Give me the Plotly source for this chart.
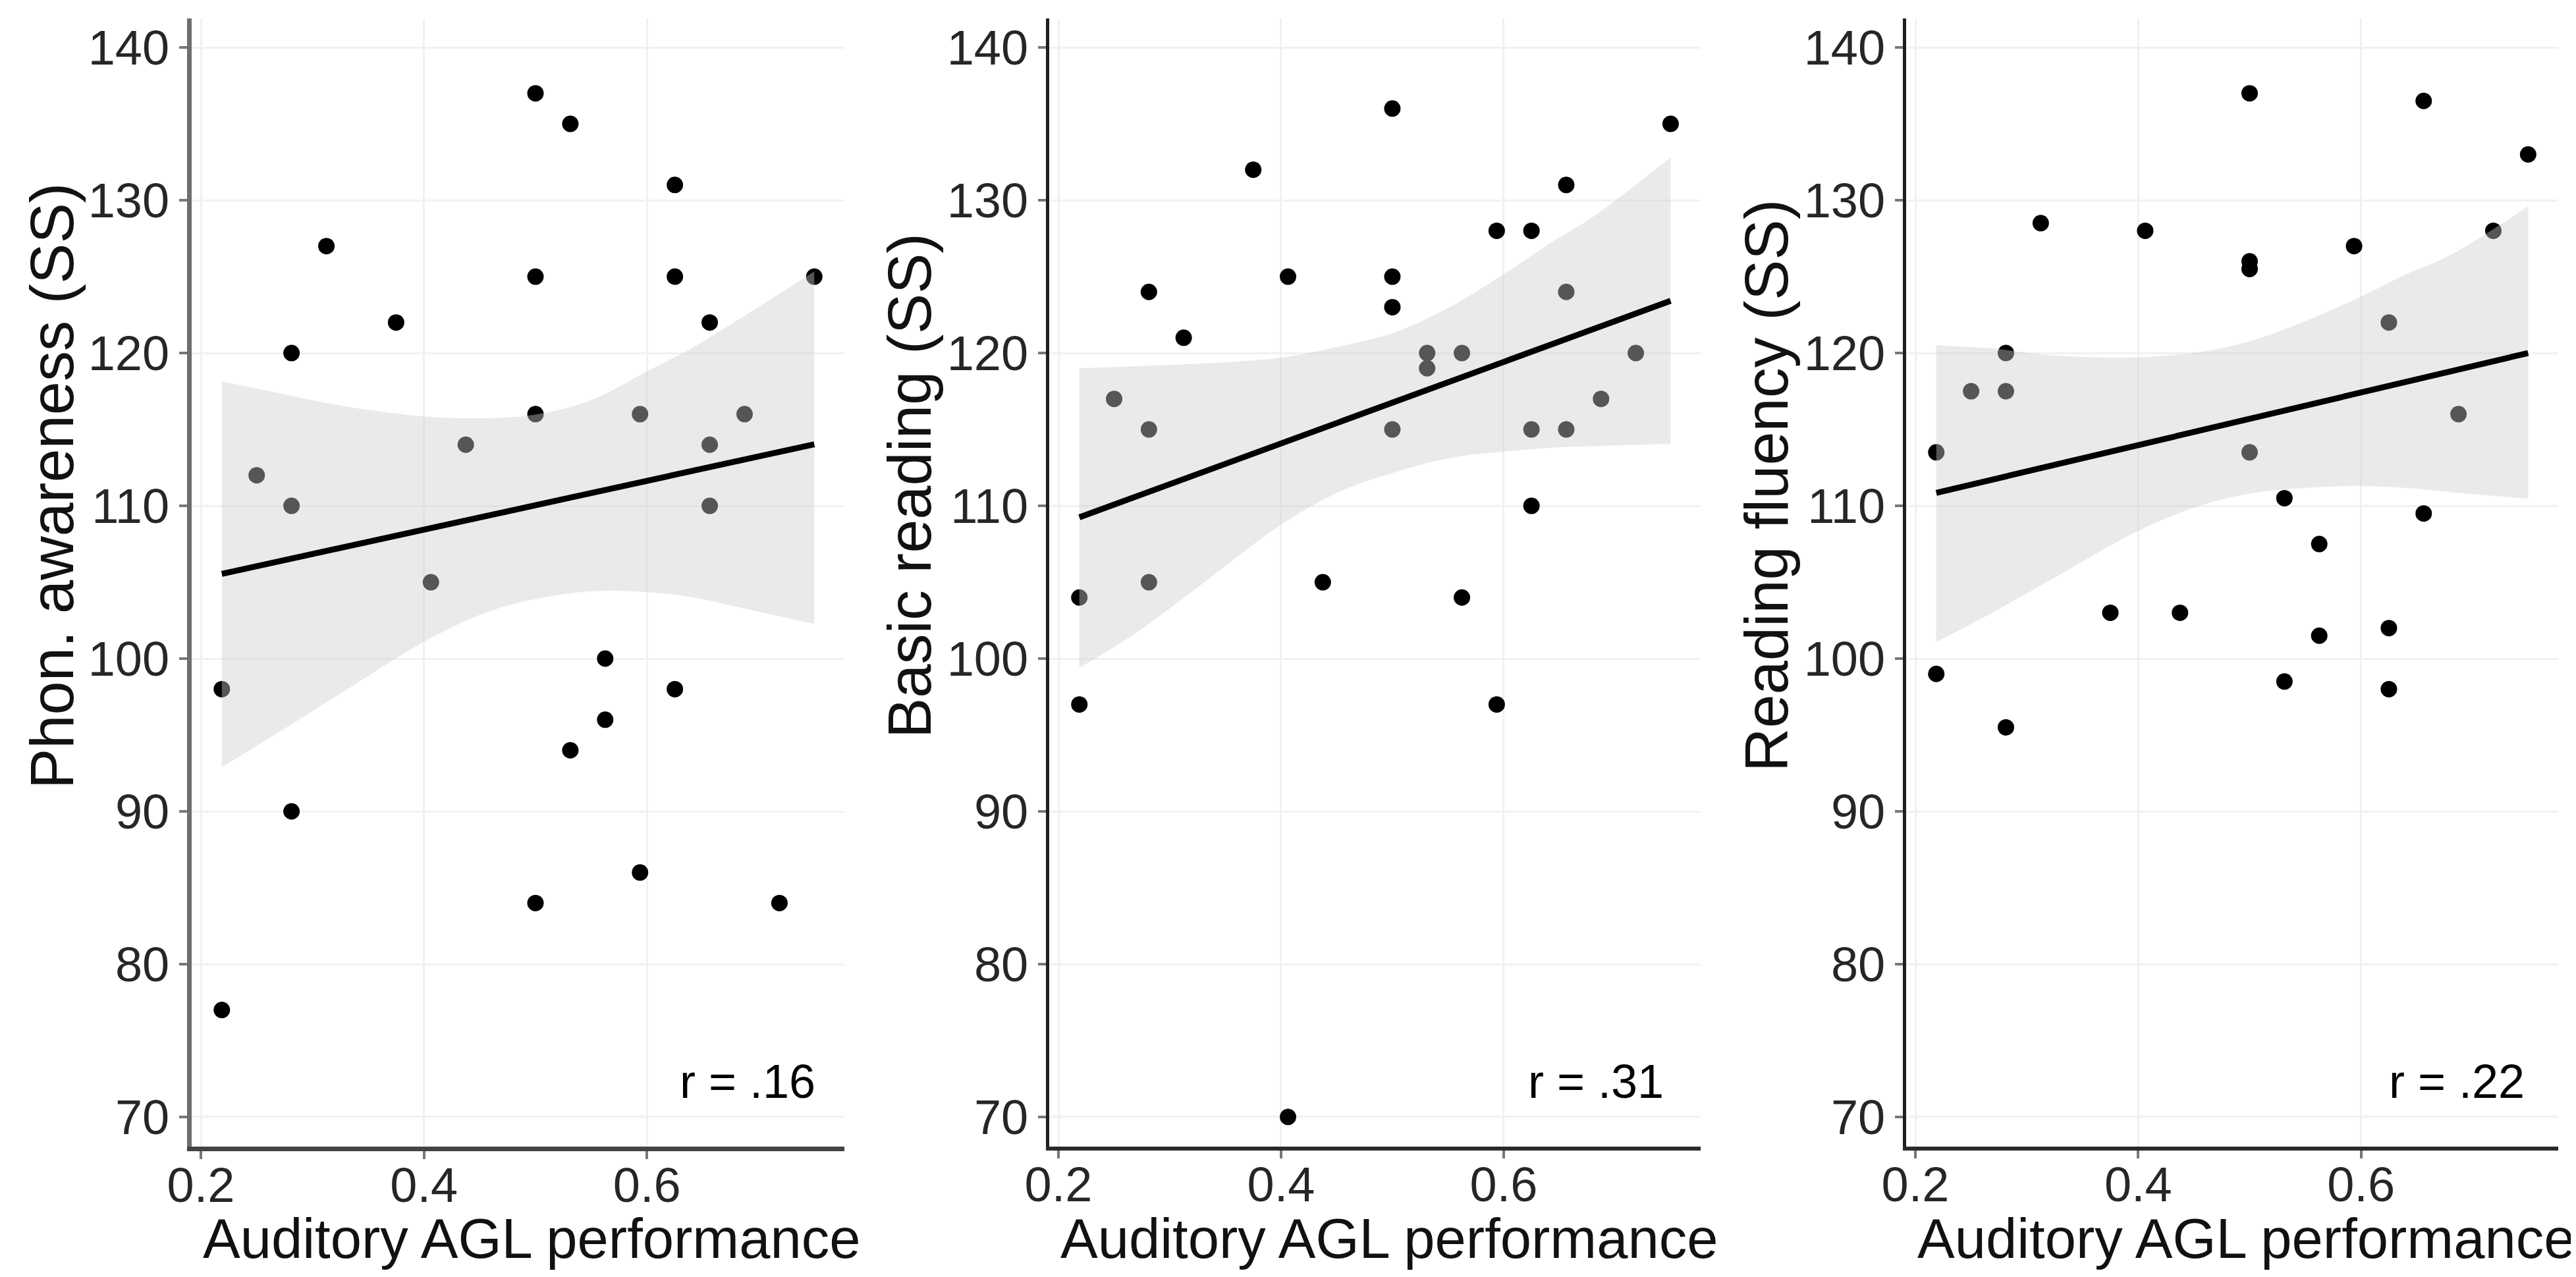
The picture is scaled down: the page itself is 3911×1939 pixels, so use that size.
import plotly.graph_objects as go

# x = auditory AGL performance (proportion correct), y = standard scores
pa_x = [0.21875, 0.21875, 0.25, 0.28125, 0.28125, 0.28125, 0.3125, 0.375, 0.40625, 0.4375,
        0.5, 0.5, 0.5, 0.5, 0.53125, 0.53125, 0.5625, 0.5625, 0.59375, 0.59375,
        0.625, 0.625, 0.625, 0.65625, 0.65625, 0.65625, 0.6875, 0.71875, 0.75]
pa_y = [77, 98, 112, 120, 110, 90, 127, 122, 105, 114,
        137, 125, 116, 84, 135, 94, 100, 96, 116, 86,
        131, 125, 98, 122, 114, 110, 116, 84, 125]

br_x = [0.21875, 0.21875, 0.25, 0.28125, 0.28125, 0.28125, 0.3125, 0.375, 0.40625, 0.40625,
        0.4375, 0.5, 0.5, 0.5, 0.5, 0.53125, 0.53125, 0.5625, 0.5625, 0.59375,
        0.59375, 0.625, 0.625, 0.625, 0.65625, 0.65625, 0.65625, 0.6875, 0.71875, 0.75]
br_y = [104, 97, 117, 124, 115, 105, 121, 132, 125, 70,
        105, 136, 125, 123, 115, 120, 119, 120, 104, 128,
        97, 128, 115, 110, 131, 124, 115, 117, 120, 135]

rf_x = [0.21875, 0.21875, 0.25, 0.28125, 0.28125, 0.28125, 0.3125, 0.375, 0.40625, 0.4375,
        0.5, 0.5, 0.5, 0.5, 0.53125, 0.53125, 0.5625, 0.5625, 0.59375,
        0.625, 0.625, 0.625, 0.65625, 0.65625, 0.6875, 0.71875, 0.75]
rf_y = [113.5, 99, 117.5, 120, 117.5, 95.5, 128.5, 103, 128, 103,
        137, 126, 125.5, 113.5, 110.5, 98.5, 107.5, 101.5, 127,
        122, 102, 98, 136.5, 109.5, 116, 128, 133]

# fitted lines (end points) and confidence bands
fit_x = [0.21875, 0.75]
pa_fit = [105.55, 114.03]
br_fit = [109.25, 123.42]
rf_fit = [110.85, 120.0]

band_x = [0.21875, 0.268, 0.325, 0.4, 0.455, 0.5, 0.549, 0.6, 0.642, 0.68, 0.75]
pa_hi = [118.15, 117.4, 116.56, 115.85, 115.74, 115.97, 116.9, 118.8, 120.4, 122.1, 125.34]
pa_lo = [92.9, 95.1, 97.7, 101.1, 103.0, 103.9, 104.4, 104.35, 104.0, 103.4, 102.27]
br_hi = [119.0, 119.13, 119.3, 119.7, 120.47, 121.3, 122.9, 125.15, 127.2, 128.9, 132.8]
br_lo = [99.4, 101.6, 104.66, 108.76, 111.0, 112.15, 113.1, 113.56, 113.8, 113.9, 114.05]
rf_hi = [120.5, 120.3, 119.84, 119.72, 120.07, 120.77, 122.06, 123.7, 125.2, 126.4, 129.6]
rf_lo = [101.1, 102.97, 105.3, 108.36, 110.0, 110.8, 111.17, 111.3, 111.17, 110.9, 110.47]

y_titles = ["Phon. awareness (SS)", "Basic reading (SS)", "Reading fluency (SS)"]
r_labels = ["r = .16", "r = .31", "r = .22"]
x_title = "Auditory AGL performance"
x_ticks = [0.2, 0.4, 0.6]
y_ticks = [70, 80, 90, 100, 110, 120, 130, 140]

W, H = 3911, 1939
panels = [
    dict(x=pa_x, y=pa_y, fit=pa_fit, hi=pa_hi, lo=pa_lo, left=283, right=1274,
         yline="#6e6e6e", ylw=7, xline="#444444", xlw=7, rx=0.958),
    dict(x=br_x, y=br_y, fit=br_fit, hi=br_hi, lo=br_lo, left=1585, right=2574,
         yline="#1e1e1e", ylw=5, xline="#2a2a2a", xlw=6, rx=0.945),
    dict(x=rf_x, y=rf_y, fit=rf_fit, hi=rf_hi, lo=rf_lo, left=2886, right=3876,
         yline="#1e1e1e", ylw=5, xline="#2a2a2a", xlw=6, rx=0.95),
]
top_px, bottom_px = 20, 1733
ydom = [1 - bottom_px / H, 1 - top_px / H]

tick_font = dict(family="Liberation Sans, Arial", size=74, color="#262626")
title_font = dict(family="Liberation Sans, Arial", color="#111111")

fig = go.Figure()
annotations = []
layout = {}
for i, p in enumerate(panels, start=1):
    xa = "x" if i == 1 else f"x{i}"
    ya = "y" if i == 1 else f"y{i}"
    # points first, so the band greys the ones it covers (as in ggplot)
    fig.add_trace(go.Scatter(x=p["x"], y=p["y"], mode="markers", xaxis=xa, yaxis=ya,
                             marker=dict(color="black", size=25), showlegend=False))
    fig.add_trace(go.Scatter(x=band_x, y=p["lo"], mode="lines", xaxis=xa, yaxis=ya,
                             line=dict(width=0, shape="spline"), showlegend=False))
    fig.add_trace(go.Scatter(x=band_x, y=p["hi"], mode="lines", xaxis=xa, yaxis=ya,
                             line=dict(width=0, shape="spline"), fill="tonexty",
                             fillcolor="rgba(205,205,205,0.42)", showlegend=False))
    fig.add_trace(go.Scatter(x=fit_x, y=p["fit"], mode="lines", xaxis=xa, yaxis=ya,
                             line=dict(color="black", width=9), showlegend=False))

    xdom = [p["left"] / W, p["right"] / W]
    layout["xaxis" if i == 1 else f"xaxis{i}"] = dict(
        domain=xdom, anchor=ya, range=[0.1917, 0.777], tickvals=x_ticks,
        ticktext=["0.2", "0.4", "0.6"], showline=True, linecolor=p["xline"], linewidth=p["xlw"],
        ticks="outside", ticklen=12, tickwidth=4, tickcolor="#777777",
        ticklabelstandoff=-24,
        showgrid=True, gridcolor="#f1f1f1", gridwidth=3, zeroline=False,
        tickfont=tick_font, automargin=False, fixedrange=True)
    layout["yaxis" if i == 1 else f"yaxis{i}"] = dict(
        domain=ydom, anchor=xa, range=[68.06, 141.9], tickvals=y_ticks,
        showline=True, linecolor=p["yline"], linewidth=p["ylw"],
        ticks="outside", ticklen=12, tickwidth=4, tickcolor="#777777",
        showgrid=True, gridcolor="#f1f1f1", gridwidth=3, zeroline=False,
        tickfont=tick_font, automargin=False, fixedrange=True)

    annotations.append(dict(text=y_titles[i - 1], textangle=-90, showarrow=False,
                            xref="paper", yref="paper", x=(p["left"] - 212) / W,
                            y=1 - 730 / H, xanchor="center", yanchor="middle",
                            font=dict(size=92, **title_font)))
    annotations.append(dict(text=x_title, showarrow=False, xref="paper", yref="paper",
                            x=(p["left"] + 516) / W, y=1 - 1872 / H,
                            xanchor="center", yanchor="middle",
                            font=dict(size=85, **title_font)))
    annotations.append(dict(text=r_labels[i - 1], showarrow=False,
                            xref=f"{xa} domain", yref=f"{ya} domain", x=p["rx"], y=0.058,
                            xanchor="right", yanchor="middle",
                            font=dict(family="Liberation Sans, Arial", size=72, color="black")))

fig.update_layout(width=W, height=H, margin=dict(l=0, r=0, t=0, b=0, autoexpand=False),
                  paper_bgcolor="white", plot_bgcolor="white",
                  annotations=annotations, **layout)

fig.write_html("out.html")
